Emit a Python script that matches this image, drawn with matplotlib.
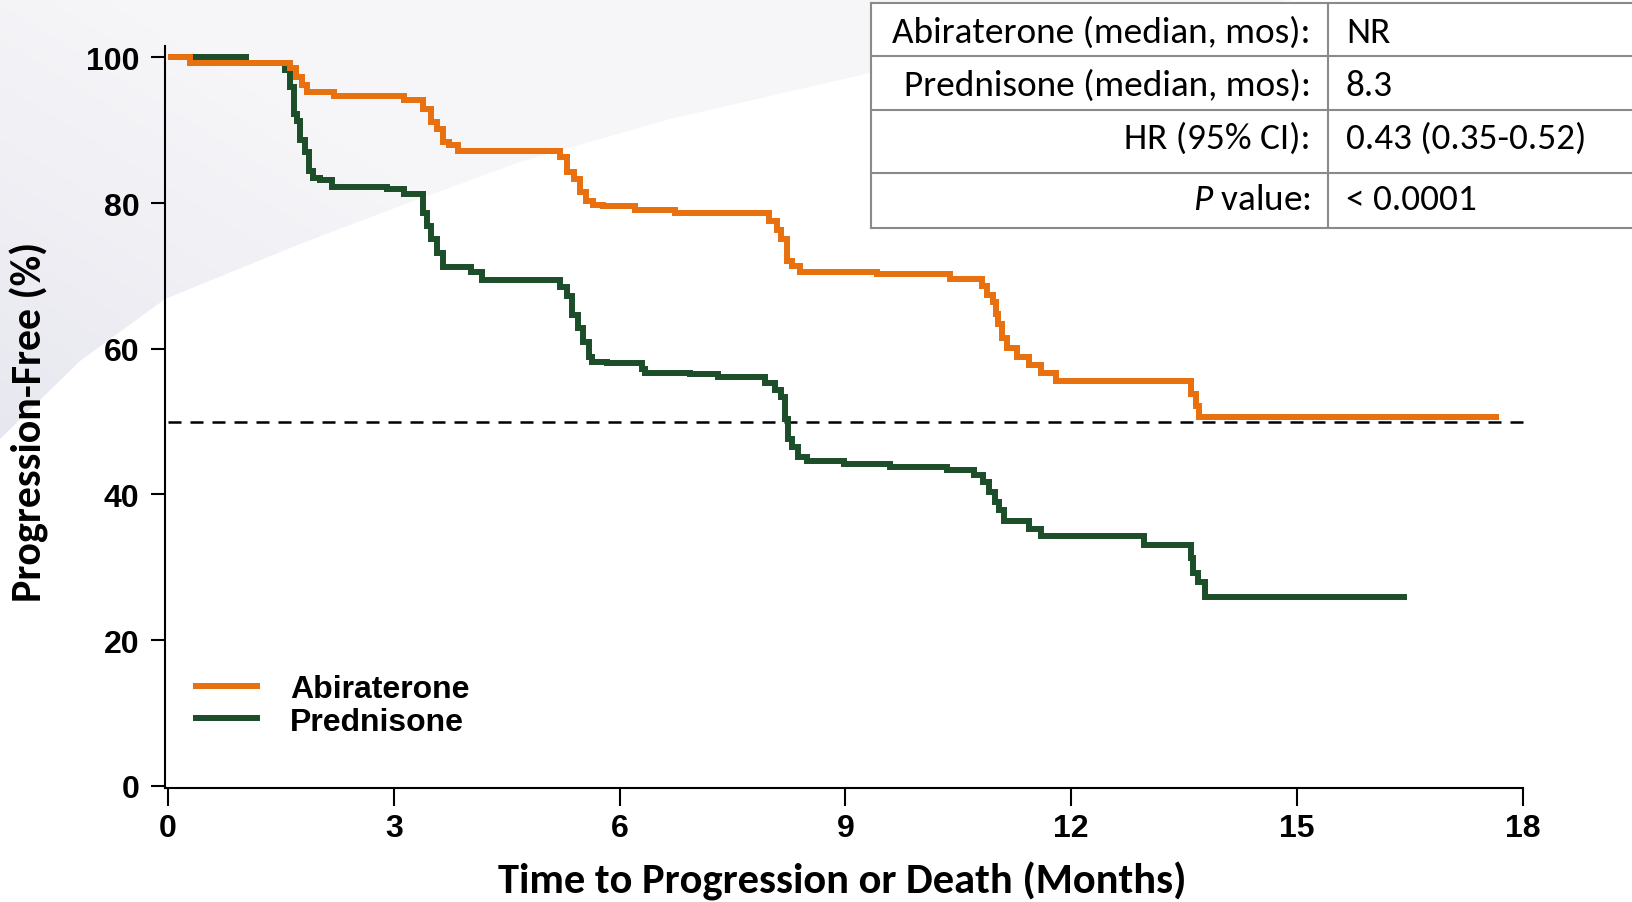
import numpy as np
import matplotlib
matplotlib.use("Agg")
import matplotlib.pyplot as plt
from matplotlib import font_manager
from matplotlib.path import Path
from matplotlib.patches import PathPatch, Rectangle
from matplotlib.lines import Line2D

# ---------------- data ----------------
series_names = ["Abiraterone", "Prednisone"]

abi_time = [0, 0.29, 1.62, 1.70, 1.78, 1.85, 2.2, 3.13, 3.39, 3.49, 3.58, 3.66, 3.73,
            3.86, 5.21, 5.30, 5.40, 5.48, 5.56, 5.65, 5.78, 6.2, 6.74, 7.98, 8.09,
            8.15, 8.22, 8.29, 8.4, 9.42, 10.39, 10.81, 10.88, 10.96, 11.0, 11.03,
            11.08, 11.15, 11.28, 11.44, 11.6, 11.8, 13.6, 13.66, 13.70, 17.68]
abi_surv = [100, 99.2, 98.6, 97.3, 96.2, 95.3, 94.7, 94.1, 92.9, 91.1, 90.2, 88.4, 87.9,
            87.2, 86.3, 84.3, 83.3, 81.5, 80.3, 79.8, 79.6, 79.1, 78.7, 77.6, 76.3,
            75.0, 72.1, 71.3, 70.5, 70.3, 69.6, 68.6, 67.4, 66.4, 64.8, 63.4,
            61.5, 60.1, 58.8, 57.7, 56.7, 55.6, 53.8, 52.2, 50.6, 50.6]

pred_time = [0, 1.03, 1.56, 1.62, 1.67, 1.71, 1.76, 1.82, 1.87, 1.93, 2.02, 2.18, 2.91,
             3.13, 3.39, 3.44, 3.50, 3.57, 3.66, 4.02, 4.17, 5.21, 5.30, 5.37, 5.45,
             5.52, 5.59, 5.63, 5.83, 6.3, 6.34, 6.94, 7.31, 7.93, 8.07, 8.14, 8.2,
             8.24, 8.29, 8.37, 8.49, 8.98, 9.59, 10.35, 10.71, 10.83, 10.91, 10.99,
             11.04, 11.11, 11.44, 11.6, 12.97, 13.6, 13.62, 13.69, 13.78, 16.46]
pred_surv = [100, 99.2, 98.2, 95.9, 92.2, 91.3, 88.6, 87.0, 84.4, 83.5, 83.1, 82.2, 81.9,
             81.2, 78.7, 76.9, 75.0, 73.2, 71.2, 70.5, 69.4, 68.5, 67.2, 64.6, 62.8,
             60.9, 58.8, 58.2, 58.0, 57.2, 56.7, 56.5, 56.1, 55.3, 54.3, 53.4, 50.4,
             47.6, 46.5, 45.1, 44.6, 44.2, 43.8, 43.3, 42.7, 41.7, 40.3, 39.0,
             37.8, 36.4, 35.3, 34.3, 33.0, 31.3, 29.2, 28.0, 25.9, 25.9]

median_level = 50
median_line_end = 18.12
x_ticks = [0, 3, 6, 9, 12, 15, 18]
y_ticks = [0, 20, 40, 60, 80, 100]
x_label = "Time to Progression or Death (Months)"
y_label = "Progression-Free (%)"

table_labels = ["Abiraterone (median, mos):", "Prednisone (median, mos):",
                "HR (95% CI):", r"$\mathit{P}$ value:"]
table_values = ["NR", "8.3", "0.43 (0.35-0.52)", "< 0.0001"]

# ---------------- styles ----------------
ORANGE = "#E8700E"
GREEN = "#1C4E2A"
W, H = 1633, 903

available = {f.name for f in font_manager.fontManager.ttflist}
def pick(cands, default="DejaVu Sans"):
    for c in cands:
        if c in available:
            return c
    return default

ARIAL = pick(["Liberation Sans", "Arial"])
CALIBRI = pick(["Carlito", "Calibri", "Lato", "Open Sans"])

plt.rcParams["mathtext.fontset"] = "custom"
plt.rcParams["mathtext.it"] = f"{CALIBRI}:italic"
plt.rcParams["mathtext.rm"] = CALIBRI

fig = plt.figure(figsize=(W / 100, H / 100), dpi=100)
fig.patch.set_facecolor("white")

# ---------------- background swoosh ----------------
bg = fig.add_axes([0, 0, 1, 1], zorder=-10)
bg.set_xlim(0, W)
bg.set_ylim(H, 0)
bg.axis("off")
yy, xx = np.mgrid[0:H, 0:W]
s = np.clip(0.18 + xx / 1000.0 + (430.0 - yy) / 430.0 * 0.7, 0, 1)[..., None]
dark = np.array([0.895, 0.895, 0.932])
light = np.array([0.966, 0.966, 0.976])
img = dark * (1 - s) + light * s
im = bg.imshow(img, extent=(0, W, H, 0), aspect="auto", interpolation="bilinear")
poly = [(0, 0), (1300, 0), (1100, 30), (900, 67), (670, 120), (520, 163), (400, 207),
        (300, 245), (165, 300), (80, 362), (0, 440), (0, 0)]
clip = PathPatch(Path(poly), transform=bg.transData, facecolor="none", edgecolor="none")
bg.add_patch(clip)
im.set_clip_path(clip)

# ---------------- main axes ----------------
ax_left, ax_right = 165 / W, 1522.6 / W
ax_bottom, ax_top = 1 - 789 / H, 1 - 46.7 / H
ax = fig.add_axes([ax_left, ax_bottom, ax_right - ax_left, ax_top - ax_bottom])
ax.set_facecolor("none")
ax.set_xlim(-0.04, 18.0)
ax.set_ylim(-0.3, 101.6)

lw = 4.3
l_pred, = ax.step(pred_time, pred_surv, where="post", color=GREEN, lw=lw,
                  solid_joinstyle="miter", solid_capstyle="butt", label=series_names[1], zorder=3)
l_abi, = ax.step(abi_time, abi_surv, where="post", color=ORANGE, lw=lw,
                 solid_joinstyle="miter", solid_capstyle="butt", label=series_names[0], zorder=4)
ax.hlines(median_level, 0, median_line_end, colors="black", lw=1.8,
          linestyles=(0, (5.2, 3.6)), zorder=2, clip_on=False)

for side in ["top", "right"]:
    ax.spines[side].set_visible(False)
for side in ["left", "bottom"]:
    ax.spines[side].set_linewidth(1.5)
ax.set_xticks(x_ticks)
ax.set_yticks(y_ticks)
ax.set_xticklabels([str(v) for v in x_ticks])
ax.set_yticklabels([str(v) for v in y_ticks])
ax.tick_params(axis="y", length=10, width=1.5, pad=8.5)
ax.tick_params(axis="x", length=13, width=1.5, pad=5)
for lab in ax.get_xticklabels() + ax.get_yticklabels():
    lab.set_fontfamily(ARIAL)
    lab.set_fontweight("bold")
    lab.set_fontsize(23)

leg = ax.legend(handles=[l_abi, l_pred], labels=series_names, loc="center left",
                bbox_to_anchor=((192.7 - 165) / (1522.6 - 165), (789 - 706.5) / (789 - 46.7)),
                frameon=False, handlelength=2.12, handletextpad=0.92, labelspacing=0.07,
                borderpad=0, borderaxespad=0,
                prop={"family": ARIAL, "weight": "bold", "size": 23})

# ---------------- overlay (labels + table) ----------------
ov = fig.add_axes([0, 0, 1, 1], zorder=10)
ov.set_xlim(0, W)
ov.set_ylim(H, 0)
ov.axis("off")
ov.set_facecolor("none")

xl = ov.text(842.6, 881, x_label, ha="center", va="center", fontfamily=CALIBRI,
             fontweight="bold", fontsize=26)
yl = ov.text(29.7, 421.8, y_label, ha="center", va="center", rotation=90,
             fontfamily=CALIBRI, fontweight="bold", fontsize=26)

# table
tx0, tx1, tmid = 871, W + 5, 1328
row_edges = [4, 57.3, 110.7, 174, 229]
text_y = [33, 85.5, 138.5, 200]
gray = "#8a8a8a"
ov.add_patch(Rectangle((tx0, row_edges[0]), tx1 - tx0, row_edges[-1] - row_edges[0],
                       facecolor="white", edgecolor="none", zorder=1))
for yv in row_edges:
    ov.add_line(Line2D([tx0, tx1], [yv, yv], color=gray, lw=1.5, zorder=2))
ov.add_line(Line2D([tx0, tx0], [row_edges[0], row_edges[-1]], color=gray, lw=1.5, zorder=2))
ov.add_line(Line2D([tmid, tmid], [row_edges[0], row_edges[-1]], color=gray, lw=1.5, zorder=2))

lab_txt = []
val_txt = []
for lab, val, yv in zip(table_labels, table_values, text_y):
    lab_txt.append(ov.text(1311, yv, lab, ha="right", va="center", fontfamily=CALIBRI,
                           fontsize=22, color="black", zorder=3))
    val_txt.append(ov.text(1346, yv, val, ha="left", va="center", fontfamily=CALIBRI,
                           fontsize=22, color="black", zorder=3))

# fit font sizes to measured text widths
fig.canvas.draw()
r = fig.canvas.get_renderer()
def fit(t, target, use_height=False):
    bb = t.get_window_extent(r)
    cur = bb.height if use_height else bb.width
    t.set_fontsize(t.get_fontsize() * target / cur)

fit(xl, 689.5)
fit(yl, 360, use_height=True)
fit(lab_txt[0], 419)
fs = lab_txt[0].get_fontsize()
for t in lab_txt + val_txt:
    t.set_fontsize(fs)

fig.savefig("out.png", dpi=100)
